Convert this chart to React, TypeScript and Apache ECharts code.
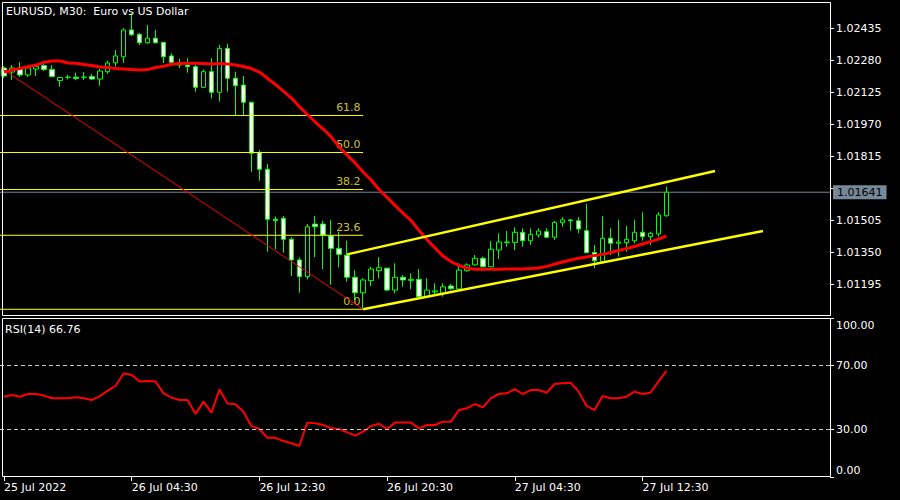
import { useEffect, useRef } from "react";
import * as echarts from "echarts";

const FONT = "DejaVu Sans";

// ---- data (EURUSD M30) ----
const opens = [
  1.02243, 1.02223, 1.02243, 1.02209, 1.02238, 1.02255, 1.02236, 1.02182, 1.02198, 1.02198,
  1.02198, 1.02201, 1.02189, 1.02225, 1.02268, 1.02297, 1.02427, 1.02406, 1.02365, 1.02387,
  1.02367, 1.02301, 1.02268, 1.02257, 1.02249, 1.02149, 1.02225, 1.02125, 1.02338, 1.02193,
  1.02160, 1.02077, 1.01833, 1.01752, 1.01510, 1.01515, 1.01413, 1.01313, 1.01232, 1.01487,
  1.01487, 1.01429, 1.01369, 1.01336, 1.01229, 1.01154, 1.01213, 1.01261, 1.01273, 1.01167,
  1.01229, 1.01214, 1.01219, 1.01135, 1.01158, 1.01151, 1.01187, 1.01172, 1.01261, 1.01289,
  1.01321, 1.01280, 1.01361, 1.01397, 1.01398, 1.01447, 1.01406, 1.01434, 1.01450, 1.01423,
  1.01493, 1.01507, 1.01503, 1.01455, 1.01350, 1.01305, 1.01418, 1.01394, 1.01397, 1.01406,
  1.01447, 1.01426, 1.01439, 1.01527,
];
const highs = [
  1.02252, 1.02257, 1.02272, 1.02248, 1.02257, 1.02262, 1.02257, 1.02199, 1.02209, 1.02220,
  1.02223, 1.02214, 1.02238, 1.02277, 1.02330, 1.02435, 1.02508, 1.02412, 1.02451, 1.02427,
  1.02369, 1.02314, 1.02286, 1.02290, 1.02257, 1.02236, 1.02290, 1.02354, 1.02359, 1.02225,
  1.02204, 1.02078, 1.01846, 1.01778, 1.01523, 1.01526, 1.01423, 1.01326, 1.01487, 1.01526,
  1.01502, 1.01507, 1.01450, 1.01406, 1.01264, 1.01224, 1.01280, 1.01326, 1.01275, 1.01297,
  1.01240, 1.01248, 1.01269, 1.01224, 1.01200, 1.01200, 1.01197, 1.01297, 1.01297, 1.01337,
  1.01329, 1.01405, 1.01442, 1.01453, 1.01471, 1.01466, 1.01466, 1.01466, 1.01466, 1.01502,
  1.01520, 1.01509, 1.01520, 1.01584, 1.01385, 1.01526, 1.01466, 1.01507, 1.01477, 1.01507,
  1.01544, 1.01450, 1.01544, 1.01668,
];
const lows = [
  1.02194, 1.02185, 1.02199, 1.02199, 1.02204, 1.02228, 1.02199, 1.02152, 1.02188, 1.02185,
  1.02185, 1.02185, 1.02157, 1.02214, 1.02249, 1.02268, 1.02398, 1.02354, 1.02361, 1.02361,
  1.02266, 1.02266, 1.02243, 1.02220, 1.02128, 1.02146, 1.02096, 1.02080, 1.02128, 1.02015,
  1.02015, 1.01740, 1.01697, 1.01353, 1.01365, 1.01348, 1.01235, 1.01154, 1.01219, 1.01326,
  1.01268, 1.01192, 1.01277, 1.01208, 1.01119, 1.01074, 1.01187, 1.01224, 1.01163, 1.01151,
  1.01183, 1.01171, 1.01133, 1.01133, 1.01143, 1.01135, 1.01167, 1.01167, 1.01256, 1.01284,
  1.01277, 1.01277, 1.01318, 1.01377, 1.01361, 1.01377, 1.01385, 1.01421, 1.01418, 1.01410,
  1.01474, 1.01455, 1.01442, 1.01346, 1.01273, 1.01304, 1.01337, 1.01329, 1.01353, 1.01394,
  1.01406, 1.01385, 1.01426, 1.01523,
];
const closes = [
  1.02204, 1.02243, 1.02209, 1.02243, 1.02250, 1.02235, 1.02201, 1.02197, 1.02198, 1.02192,
  1.02198, 1.02189, 1.02228, 1.02267, 1.02301, 1.02427, 1.02404, 1.02365, 1.02387, 1.02365,
  1.02297, 1.02270, 1.02257, 1.02249, 1.02149, 1.02225, 1.02125, 1.02338, 1.02193, 1.02157,
  1.02077, 1.01830, 1.01752, 1.01510, 1.01504, 1.01413, 1.01313, 1.01232, 1.01474, 1.01474,
  1.01434, 1.01369, 1.01340, 1.01229, 1.01154, 1.01216, 1.01269, 1.01275, 1.01167, 1.01229,
  1.01216, 1.01219, 1.01135, 1.01167, 1.01163, 1.01183, 1.01174, 1.01264, 1.01289, 1.01321,
  1.01280, 1.01365, 1.01400, 1.01400, 1.01447, 1.01406, 1.01437, 1.01453, 1.01423, 1.01495,
  1.01507, 1.01503, 1.01463, 1.01348, 1.01309, 1.01418, 1.01394, 1.01400, 1.01413, 1.01447,
  1.01426, 1.01442, 1.01531, 1.01641,
];
const movingAverage = [
  1.02223, 1.02233, 1.02240, 1.02249, 1.02257, 1.02270, 1.02277, 1.02277, 1.02267, 1.02266,
  1.02260, 1.02255, 1.02248, 1.02245, 1.02240, 1.02238, 1.02235, 1.02233, 1.02235, 1.02245,
  1.02251, 1.02261, 1.02265, 1.02266, 1.02266, 1.02265, 1.02262, 1.02265, 1.02262, 1.02257,
  1.02250, 1.02240, 1.02223, 1.02194, 1.02163, 1.02131, 1.02097, 1.02056, 1.02018, 1.01981,
  1.01947, 1.01909, 1.01860, 1.01821, 1.01783, 1.01739, 1.01700, 1.01654, 1.01616, 1.01577,
  1.01540, 1.01504, 1.01456, 1.01412, 1.01371, 1.01332, 1.01305, 1.01286, 1.01274, 1.01268,
  1.01268, 1.01268, 1.01268, 1.01269, 1.01269, 1.01269, 1.01271, 1.01274, 1.01282, 1.01293,
  1.01303, 1.01313, 1.01321, 1.01327, 1.01335, 1.01340, 1.01349, 1.01359, 1.01368, 1.01378,
  1.01390, 1.01402, 1.01414, 1.01429,
];
const rsi = [
  50.5, 51.6, 50.5, 52.2, 52.2, 51.2, 49.5, 49.5, 49.5, 50.1,
  49.5, 48.4, 50.9, 54.3, 57.4, 65.2, 64.2, 60.0, 60.4, 60.0,
  52.6, 49.9, 48.4, 48.4, 39.6, 47.4, 40.5, 55.1, 46.3, 45.7,
  41.1, 32.1, 30.2, 24.7, 24.7, 22.6, 21.2, 19.5, 34.2, 33.8,
  32.7, 30.6, 30.2, 28.1, 26.0, 28.5, 32.1, 33.5, 30.2, 34.2,
  34.2, 34.2, 30.6, 32.7, 32.7, 34.8, 34.8, 42.1, 43.2, 45.9,
  43.8, 49.5, 52.2, 52.6, 55.3, 52.2, 54.7, 54.7, 53.0, 58.5,
  58.9, 59.3, 53.7, 44.7, 42.1, 50.9, 49.5, 49.5, 50.5, 53.7,
  52.2, 53.0, 60.0, 66.76,
];
const lastPrice = 1.01641;
const priceTicks = [1.01195, 1.0135, 1.01505, 1.0166, 1.01815, 1.0197, 1.02125, 1.0228, 1.02435];
// the 1.01660 label sits under the current-price box, so it is not shown
const priceLabels = [1.01195, 1.0135, 1.01505, 1.01815, 1.0197, 1.02125, 1.0228, 1.02435];
const rsiTicks = [0, 30, 70, 100];
const rsiLevels = [70, 30];
const xTickLabels = ["25 Jul 2022", "26 Jul 04:30", "26 Jul 12:30", "26 Jul 20:30", "27 Jul 04:30", "27 Jul 12:30"];
const fibLevels = [0, 23.6, 38.2, 50, 61.8, 100];
const fibAnchorHigh = [-14, 1.02593];
const fibAnchorLow = [45, 1.01074];
const channelUpper = [[43, 1.0134], [89.1, 1.01744]];
const channelLower = [[45, 1.01074], [95.1, 1.01453]];

const SLOTS = 104; // bars incl. empty right margin
const BAR_STEP = 16;
const categories = Array.from({ length: SLOTS }, (_, i) => {
  const d = new Date(Date.UTC(2022, 6, 25, 20, 30) + i * 30 * 60000);
  const hh = String(d.getUTCHours()).padStart(2, "0");
  const mm = String(d.getUTCMinutes()).padStart(2, "0");
  return `${d.getUTCDate()} Jul ${hh}:${mm}`;
});

export default function App() {
  const ref = useRef<HTMLDivElement>(null);
  useEffect(() => {
    const chart = echarts.init(ref.current!, null, { renderer: "svg" });
    const candleData = opens.map((o, i) => [o, closes[i], lows[i], highs[i]]);
    const fibPrice = (l: number) => fibAnchorLow[1] + ((fibAnchorHigh[1] - fibAnchorLow[1]) * l) / 100;
    const tickShown = (index: number) => index % BAR_STEP === 0 && index / BAR_STEP < xTickLabels.length;
    const txt = { color: "#ffffff", fontFamily: FONT, fontSize: 11 };

    const series: any[] = [];
    fibLevels.forEach((l) => {
      series.push({
        type: "line", xAxisIndex: 2, yAxisIndex: 0, silent: true, symbol: "none",
        data: [[fibAnchorHigh[0], fibPrice(l)], [fibAnchorLow[0], fibPrice(l)]],
        lineStyle: { color: "#ffff00", width: 1 },
      });
    });
    series.push({
      type: "scatter", xAxisIndex: 2, yAxisIndex: 0, silent: true, symbolSize: 1,
      itemStyle: { color: "rgba(0,0,0,0)" },
      data: fibLevels.map((l) => ({ value: [fibAnchorLow[0], fibPrice(l)], name: l.toFixed(1) })),
      label: {
        show: true, position: "left", distance: 2, offset: [0, -8],
        formatter: (p: any) => p.name, color: "#fff04a", fontFamily: FONT, fontSize: 11,
      },
    });
    series.push({
      type: "line", xAxisIndex: 2, yAxisIndex: 0, silent: true, symbol: "none",
      data: [fibAnchorHigh, fibAnchorLow],
      lineStyle: { color: "#ff0000", width: 1 },
    });
    series.push({
      type: "candlestick", xAxisIndex: 0, yAxisIndex: 0, silent: true, barWidth: 5,
      data: candleData,
      itemStyle: { color: "#000000", color0: "#ffffff", borderColor: "#00ff00", borderColor0: "#00ff00", borderWidth: 1 },
    });
    series.push({
      type: "line", xAxisIndex: 0, yAxisIndex: 0, silent: true, symbol: "none",
      data: movingAverage, lineStyle: { color: "#ff0000", width: 3 },
    });
    [channelUpper, channelLower].forEach((c) => {
      series.push({
        type: "line", xAxisIndex: 2, yAxisIndex: 0, silent: true, symbol: "none",
        data: c, lineStyle: { color: "#ffff00", width: 2.5 },
      });
    });
    // current price line with its price box on the axis
    series.push({
      type: "line", xAxisIndex: 2, yAxisIndex: 0, silent: true, symbol: "none",
      data: [[-0.5, lastPrice], [SLOTS - 0.5, lastPrice]],
      lineStyle: { color: "#778899", width: 1 },
      z: 1,
      markPoint: {
        silent: true, animation: false, symbol: "rect", symbolSize: 0.1,
        data: [{ coord: [SLOTS - 0.5, lastPrice], value: lastPrice }],
        label: {
          show: true, position: "right", distance: 3,
          formatter: (p: any) => Number(p.value).toFixed(5),
          backgroundColor: "#778899", color: "#000000", padding: [1, 4, 1, 4],
          fontFamily: FONT, fontSize: 11, lineHeight: 12,
        },
      },
    });
    series.push({
      type: "line", xAxisIndex: 1, yAxisIndex: 1, silent: true, symbol: "none",
      data: rsi, lineStyle: { color: "#ff0000", width: 2 },
      markLine: {
        silent: true, symbol: ["none", "none"], animation: false,
        data: rsiLevels.map((v) => ({ yAxis: v })),
        lineStyle: { color: "#c8c8c8", type: [4, 3], width: 1 },
        label: { show: false },
      },
    });

    chart.setOption({
      animation: false,
      backgroundColor: "#000000",
      title: [
        { text: "EURUSD, M30:  Euro vs US Dollar", left: 6, top: 6, padding: 0, textStyle: { ...txt, fontWeight: "normal" } },
        { text: "RSI(14) " + rsi[rsi.length - 1].toFixed(2), left: 5, top: 324, padding: 0, textStyle: { ...txt, fontWeight: "normal" } },
      ],
      grid: [
        { left: -2, width: 832, top: 2, height: 314 },
        { left: -2, width: 832, top: 318, height: 159 },
      ],
      xAxis: [
        { type: "category", gridIndex: 0, data: categories, show: false, axisLine: { onZero: false } },
        {
          type: "category", gridIndex: 1, data: categories,
          axisLine: { show: false, onZero: false },
          axisTick: { show: true, interval: tickShown, alignWithLabel: true, length: 4, lineStyle: { color: "#ffffff" } },
          axisLabel: {
            ...txt, interval: tickShown, align: "left", margin: 5,
            formatter: (_v: string, idx: number) => xTickLabels[idx / BAR_STEP] ?? "",
          },
          splitLine: { show: false },
        },
        { type: "value", gridIndex: 0, min: -0.5, max: SLOTS - 0.5, show: false, axisLine: { onZero: false } },
      ],
      yAxis: [
        {
          type: "value", gridIndex: 0, position: "right", scale: true,
          min: 1.010415, max: 1.025624,
          axisLine: { show: false, onZero: false }, splitLine: { show: false },
          axisTick: { show: true, inside: false, length: 4, customValues: priceTicks, lineStyle: { color: "#ffffff" } },
          axisLabel: { ...txt, margin: 6, customValues: priceLabels, formatter: (v: number) => v.toFixed(5) },
        },
        {
          type: "value", gridIndex: 1, position: "right", min: 0, max: 100,
          axisLine: { show: false, onZero: false }, splitLine: { show: false },
          axisTick: { show: true, inside: false, length: 4, customValues: rsiTicks, lineStyle: { color: "#ffffff" } },
          axisLabel: {
            ...txt, margin: 6, customValues: rsiTicks,
            formatter: (v: number) => (v === 100 ? `{t|${v.toFixed(2)}}` : v === 0 ? `{b|${v.toFixed(2)}}` : v.toFixed(2)),
            rich: {
              t: { ...txt, padding: [14, 0, 0, 0] },
              b: { ...txt, padding: [0, 0, 14, 0] },
            },
          },
        },
      ],
      graphic: [
        { type: "rect", z: 100, silent: true, shape: { x: 2.5, y: 2.5, width: 828, height: 313 }, style: { fill: "none", stroke: "#ffffff", lineWidth: 1 } },
        { type: "rect", z: 100, silent: true, shape: { x: 2.5, y: 318.5, width: 828, height: 158 }, style: { fill: "none", stroke: "#ffffff", lineWidth: 1 } },
      ],
      series,
    });
    return () => chart.dispose();
  }, []);
  return <div ref={ref} style={{ position: "fixed", left: 0, top: 0, width: 900, height: 500, background: "#000" }} />;
}
